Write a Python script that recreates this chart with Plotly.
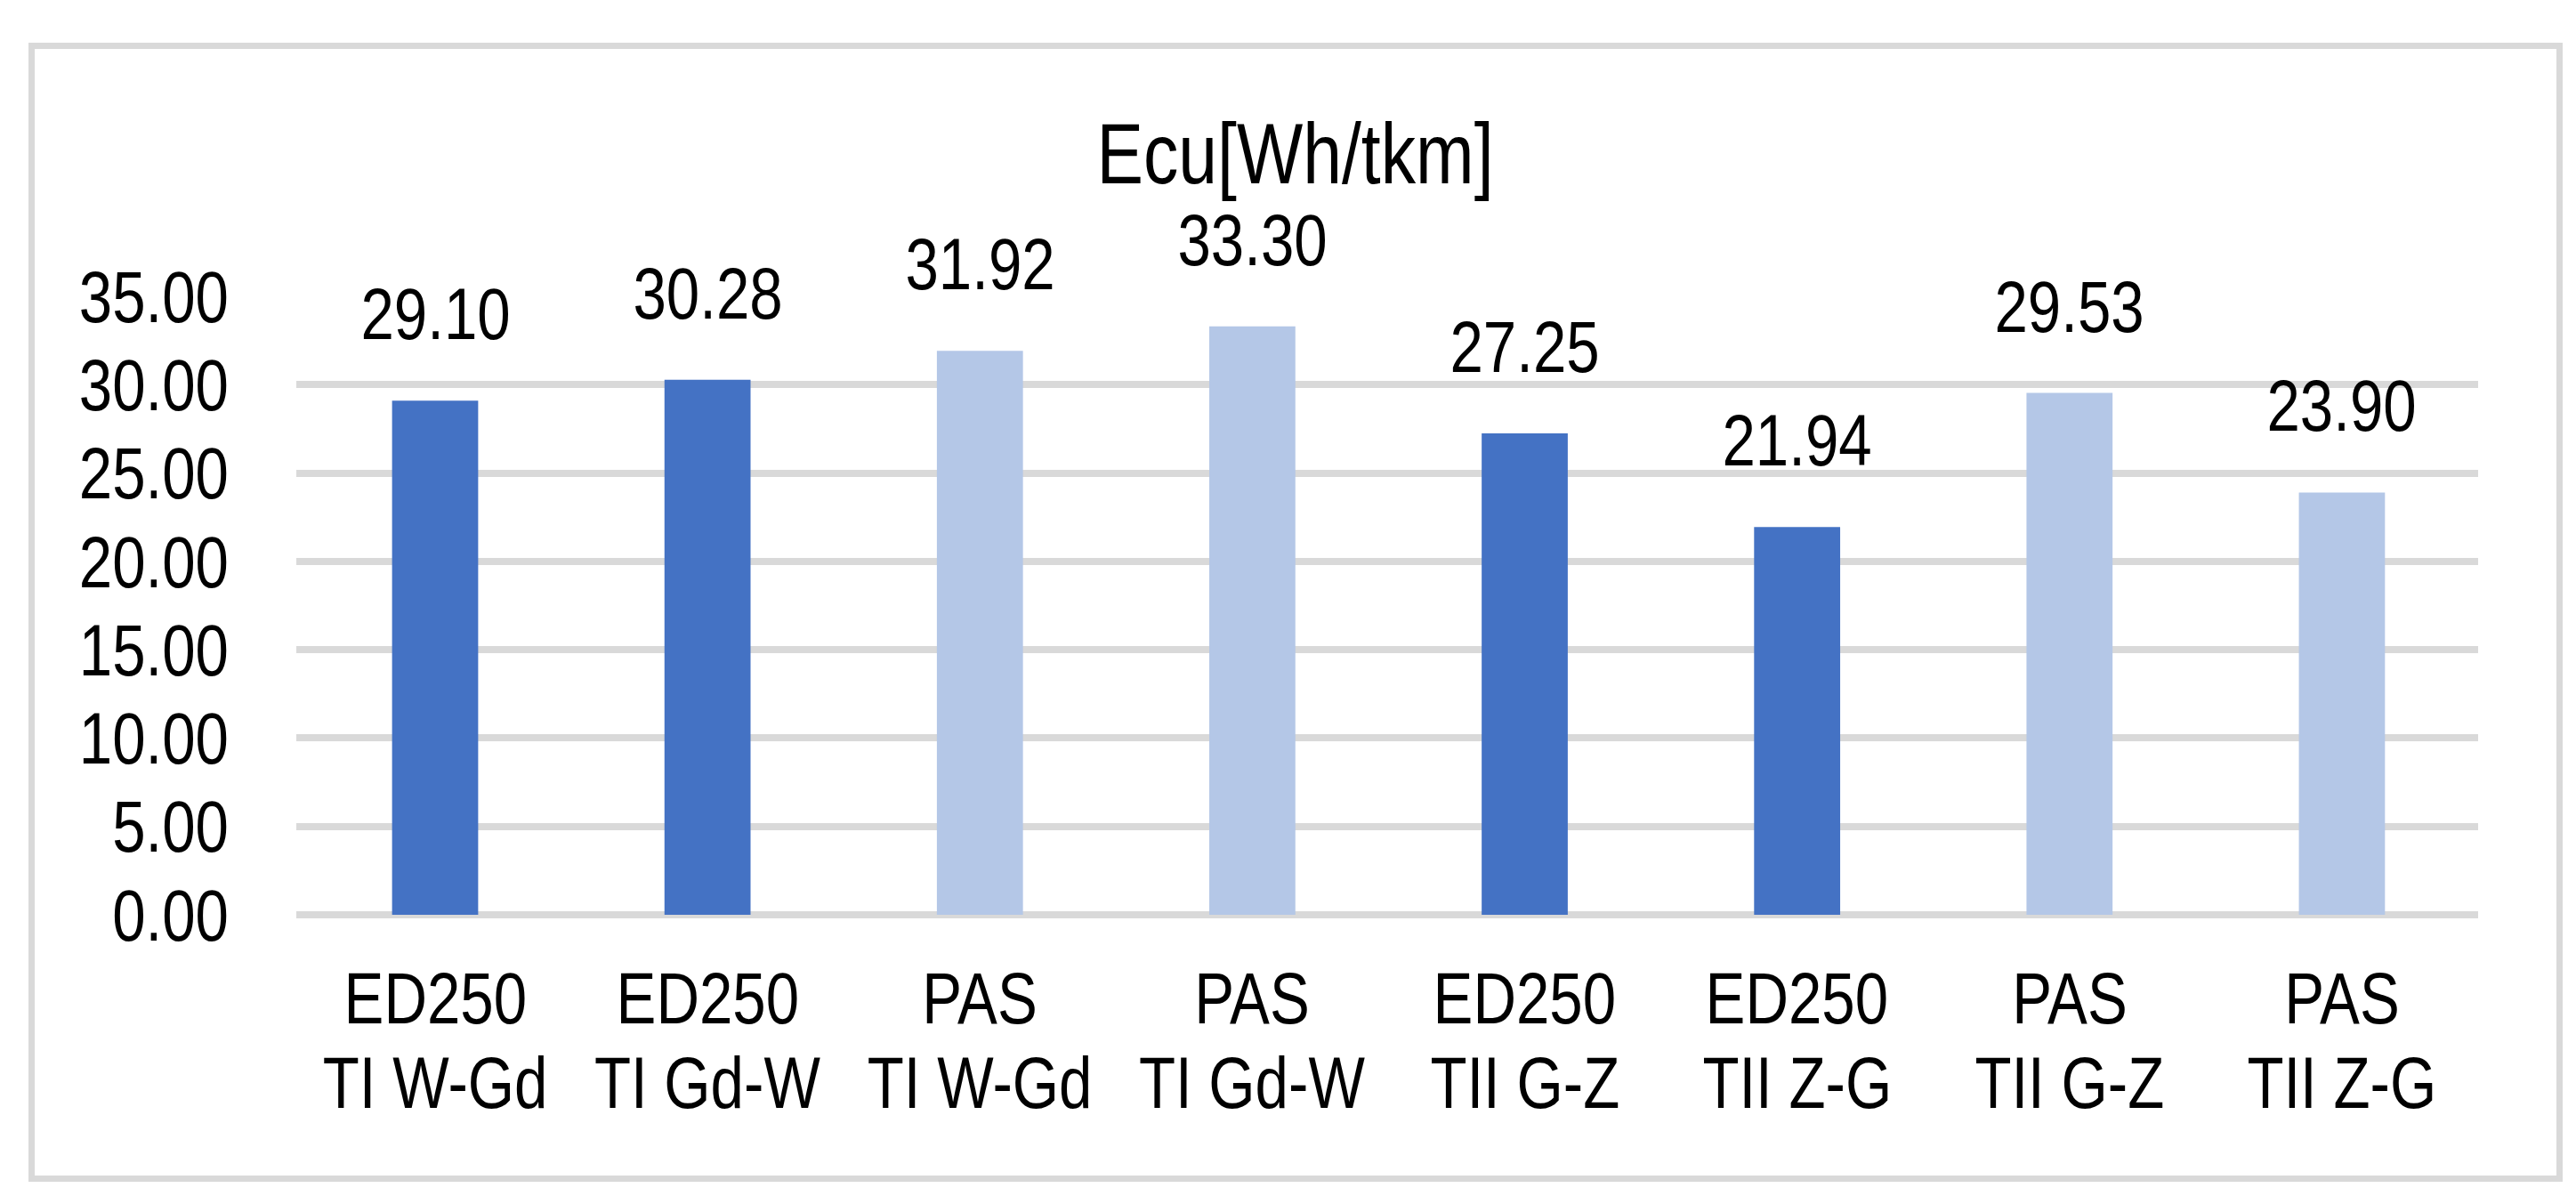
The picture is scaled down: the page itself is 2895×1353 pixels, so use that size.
import plotly.graph_objects as go

# ---- data ----
label_line1 = ["ED250", "ED250", "PAS", "PAS", "ED250", "ED250", "PAS", "PAS"]
label_line2 = ["TI W-Gd", "TI Gd-W", "TI W-Gd", "TI Gd-W", "TII G-Z", "TII Z-G", "TII G-Z", "TII Z-G"]
values = [29.10, 30.28, 31.92, 33.30, 27.25, 21.94, 29.53, 23.90]
bar_colors = ["#4472C4", "#4472C4", "#B4C7E7", "#B4C7E7",
              "#4472C4", "#4472C4", "#B4C7E7", "#B4C7E7"]
y_tick_values = [0, 5, 10, 15, 20, 25, 30, 35]
y_tick_labels = ["0.00", "5.00", "10.00", "15.00", "20.00", "25.00", "30.00", "35.00"]
chart_title = "Ecu[Wh/tkm]"

categories = [f"{a} {b}" for a, b in zip(label_line1, label_line2)]

# ---- layout geometry (pixels) ----
W, H = 2895, 1353
PL, PR = 325, 2777      # plot area left/right
PT, PB = 325, 1020      # plot area top/bottom
FONT = "Liberation Sans, Arial, sans-serif"
FS = 82
GRID = "#D9D9D9"

def px_x(x):
    return (x - PL) / (PR - PL)

def px_y(y):
    return (PB - y) / (PB - PT)

fig = go.Figure()
fig.add_trace(go.Bar(
    x=categories, y=values,
    marker=dict(color=bar_colors, line=dict(width=0)),
    hoverinfo="skip",
))

annotations = []
# data labels
for c, v in zip(categories, values):
    annotations.append(dict(
        x=c, y=v, xref="x", yref="y", text=f"{v:.2f}", showarrow=False,
        yanchor="bottom", xanchor="center", yshift=50,
        font=dict(family=FONT, size=FS, color="#000000"),
    ))
# two-line category labels
for c, l1, l2 in zip(categories, label_line1, label_line2):
    annotations.append(dict(
        x=c, y=px_y(1113), xref="x", yref="paper", text=l1, showarrow=False,
        yanchor="middle", xanchor="center",
        font=dict(family=FONT, size=FS, color="#000000"),
    ))
    annotations.append(dict(
        x=c, y=px_y(1208), xref="x", yref="paper", text=l2, showarrow=False,
        yanchor="middle", xanchor="center",
        font=dict(family=FONT, size=FS, color="#000000"),
    ))

fig.update_layout(
    width=W, height=H, autosize=False,
    margin=dict(l=PL, r=W - PR, t=PT, b=H - PB, pad=0),
    paper_bgcolor="#FFFFFF", plot_bgcolor="#FFFFFF",
    showlegend=False,
    bargap=0.684,
    title=dict(
        text=chart_title, x=0.5, xref="container", xanchor="center",
        y=1 - 164 / H, yref="container", yanchor="middle",
        font=dict(family=FONT, size=96, color="#000000"),
    ),
    xaxis=dict(
        type="category", showticklabels=False, showgrid=False,
        zeroline=False, showline=False, ticks="", automargin=False,
    ),
    yaxis=dict(
        range=[0, 35], tickvals=y_tick_values, ticktext=y_tick_labels,
        showgrid=True, gridcolor=GRID, gridwidth=8,
        zeroline=True, zerolinecolor=GRID, zerolinewidth=8,
        showline=False, ticks="", ticklabelstandoff=75, automargin=False,
        tickfont=dict(family=FONT, size=FS, color="#000000"),
    ),
    annotations=annotations,
    shapes=[dict(
        type="rect", xref="paper", yref="paper",
        x0=px_x(27.5), x1=px_x(2868.5), y0=px_y(1316.5), y1=px_y(43.5),
        line=dict(color=GRID, width=7), fillcolor="rgba(0,0,0,0)", layer="below",
    )],
)

# Condense the glyphs horizontally (the reference uses a narrow typeface)
squeeze_js = """
var gd = document.getElementById('{plot_id}');
function squeezeText(){
  gd.querySelectorAll('svg text').forEach(function(t){
    var tr = t.getAttribute('transform') || '';
    if (tr.indexOf('scale(0.82,1)') >= 0) return;
    var x = parseFloat(t.getAttribute('x') || '0');
    t.setAttribute('transform', tr + ' translate(' + x + ',0) scale(0.82,1) translate(' + (-x) + ',0)');
  });
}
squeezeText();
if (gd.on) { gd.on('plotly_afterplot', squeezeText); }
"""

fig.write_html("out.html", post_script=squeeze_js)
